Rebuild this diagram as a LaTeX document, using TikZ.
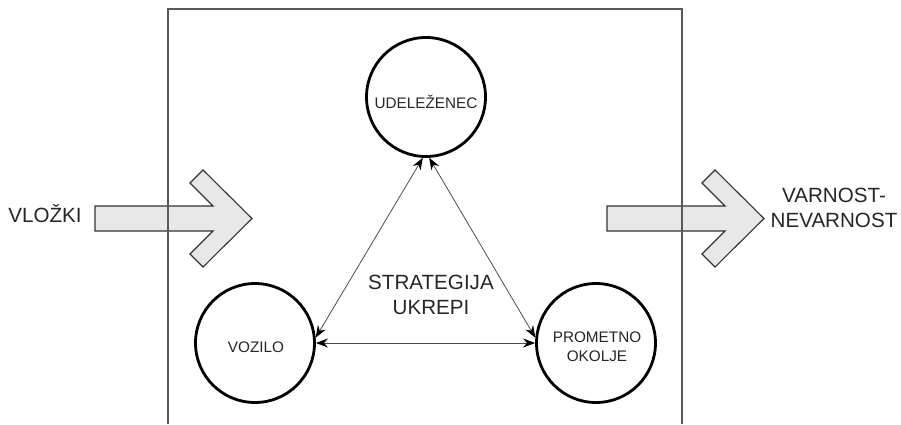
\documentclass[tikz,border=0pt]{standalone}
\usepackage{fontspec}
\setmainfont{Liberation Sans}
\usetikzlibrary{arrows.meta}

\tikzset{
  party/.style={circle, draw, line width=2.8pt, minimum size=119pt, inner sep=0pt},
  tag/.style={font=\fontsize{15.3}{19}\selectfont, text=black!85, align=center, inner sep=0pt},
  biglabel/.style={font=\fontsize{20.6}{25}\selectfont, text=black!85, align=center, inner sep=0pt},
  link/.style={{Stealth[length=12pt,width=9pt,color=black]}-{Stealth[length=12pt,width=9pt,color=black]},
    draw=black!70, line width=0.8pt},
  frame/.style={draw=black!65, line width=1.3pt},
  % block arrow with a chevron head, origin at top left of the shaft
  flow/.pic={
    \draw[draw=black!80, fill=black!9, line width=1.1pt, line join=miter]
      (0,0) -- (118,0) -- (95,-23) -- (108,-36) -- (157,12.5)
      -- (108,61) -- (95,48) -- (118,25) -- (0,25) -- cycle;
  }
}

\begin{document}
\begin{tikzpicture}[x=1pt,y=-1pt]
    \useasboundingbox (0,0) rectangle (901,424);

    % input and output
    \pic at (95,206) {flow};
    \pic at (607,206) {flow};
    \node[biglabel, anchor=base] (in) at (45,222.5) {VLOŽKI};
    \node[biglabel] (out) at (834,207.5) {VARNOST-\\NEVARNOST};

    % system border
    \draw[frame] (168,424) -- (168,9) -- (682,9) -- (682,424);

    % the three parties
    \node[party] (udel) at (426,97) {};
    \node[party] (vozilo) at (255,343) {};
    \node[party] (promet) at (596,343) {};
    \node[tag, anchor=base] (udeltxt) at (426,108) {UDELEŽENEC};
    \node[tag, anchor=base] (vozilotxt) at (256,352.5) {VOZILO};
    \node[tag] (promettxt) at (597,346.5) {PROMETNO\\OKOLJE};

    \node[biglabel] (strat) at (431,294.5) {STRATEGIJA\\UKREPI};

    \draw[link] (udel.-93) -- (vozilo.5);
    \draw[link] (udel.-87) -- (promet.175);
    \draw[link] (vozilo) -- (promet);
\end{tikzpicture}
\end{document}
